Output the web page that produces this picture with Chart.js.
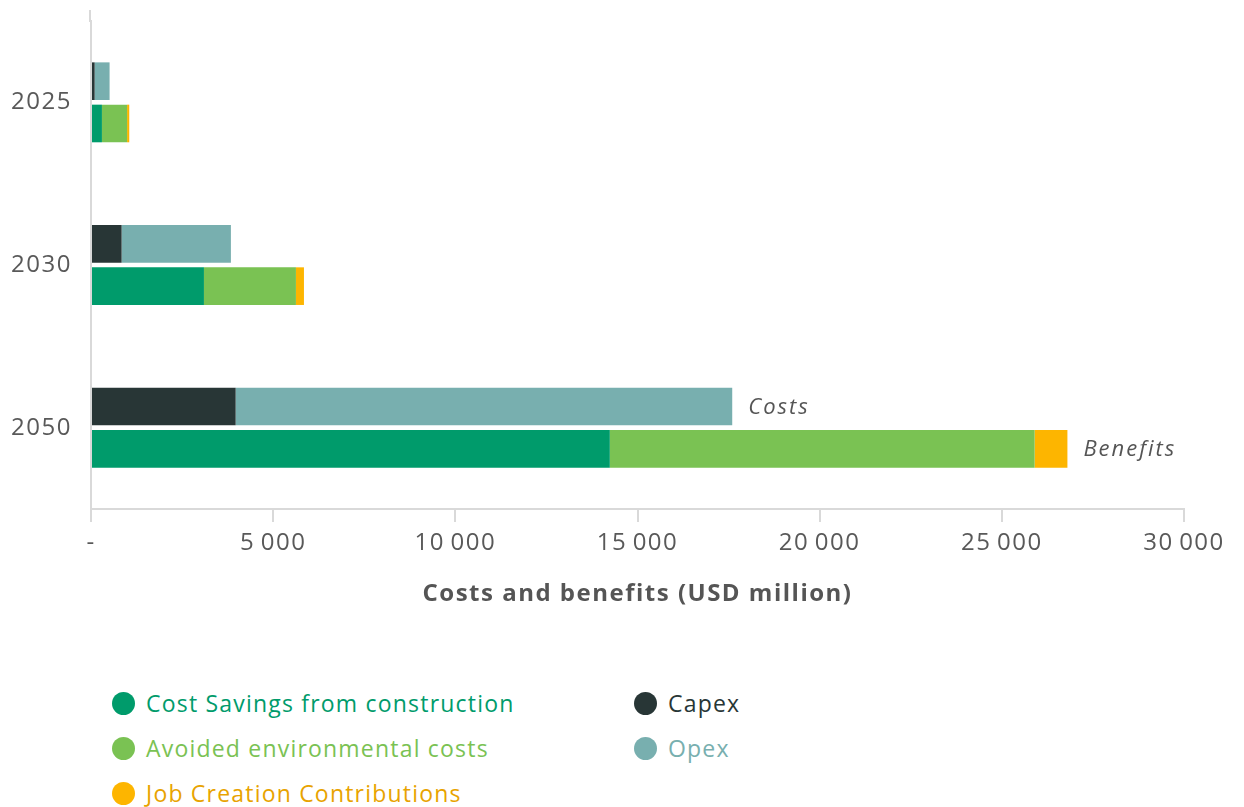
<!DOCTYPE html>
<html>
<head>
<meta charset="utf-8">
<title>Costs and benefits</title>
<script src="https://cdn.jsdelivr.net/npm/chart.js@4"></script>
<style>
  body { margin: 0; background: #fff; font-family: "Open Sans", sans-serif; }
  #wrap { position: relative; width: 1244px; height: 807px; }
  #chart-box { position: absolute; left: 0; top: 0; width: 1244px; height: 620px; }
  .legend-item {
    position: absolute; display: flex; align-items: center;
    height: 30px; font-size: 23px; letter-spacing: 1.2px; white-space: nowrap;
  }
  .legend-item .dot { width: 23px; height: 23px; border-radius: 50%; margin-right: 11px; }
</style>
</head>
<body>
<div id="wrap">
  <div id="chart-box"><canvas id="costsChart" width="1244" height="620"></canvas></div>
  <div id="legend"></div>
</div>
<script>
// Valores em USD milhões por ano
const categories = ['2025', '2030', '2050'];
const capex = [100, 840, 3970];
const opex = [410, 3000, 13630];
const costSavings = [300, 3100, 14240];
const avoidedEnv = [690, 2525, 11660];
const jobCreation = [60, 220, 900];
const xTickValues = [0, 5000, 10000, 15000, 20000, 25000, 30000];

const COLORS = {
    capex: '#283636',
    opex: '#78AFAF',
    savings: '#009B6B',
    avoided: '#7AC253',
    jobs: '#FDB500'
};

const TEXT_COLOR = '#595959';
const AXIS_COLOR = '#d9d9d9';

/**
 * Formata os ticks do eixo x: zero vira "-", milhares com espaço fino
 */
function formatTick(value) {
    if (value === 0) return '-';
    return String(value).replace(/\B(?=(\d{3})+(?!\d))/g, '\u2009');
}

// Espaçamento entre letras no texto do canvas
const textSpacing = {
    id: 'textSpacing',
    beforeDraw(chart) {
        chart.ctx.letterSpacing = '1.5px';
    }
};

// Prolonga a linha do eixo y até o topo
const axisExtension = {
    id: 'axisExtension',
    afterDraw(chart) {
        const ctx = chart.ctx;
        const x = chart.scales.y.right;
        ctx.save();
        ctx.strokeStyle = AXIS_COLOR;
        ctx.lineWidth = 2;
        ctx.beginPath();
        ctx.moveTo(x - 1, 10);
        ctx.lineTo(x - 1, chart.chartArea.top + 1);
        ctx.stroke();
        ctx.restore();
    }
};

// Rótulos "Costs" / "Benefits" ao lado das barras do último ano
const stackLabels = {
    id: 'stackLabels',
    afterDatasetsDraw(chart) {
        const ctx = chart.ctx;
        const last = categories.length - 1;
        const ends = [['Costs', 1], ['Benefits', 4]];
        ctx.save();
        ctx.font = 'italic 22px "Open Sans"';
        ctx.letterSpacing = '2px';
        ctx.fillStyle = '#555';
        ctx.textBaseline = 'middle';
        ends.forEach(function (item) {
            const bar = chart.getDatasetMeta(item[1]).data[last];
            ctx.fillText(item[0], bar.x + 16, bar.y + 1);
        });
        ctx.restore();
    }
};

const datasets = [
    { label: 'Capex', data: capex, backgroundColor: COLORS.capex, stack: 'costs' },
    { label: 'Opex', data: opex, backgroundColor: COLORS.opex, stack: 'costs' },
    { label: 'Cost Savings from construction', data: costSavings, backgroundColor: COLORS.savings, stack: 'benefits' },
    { label: 'Avoided environmental costs', data: avoidedEnv, backgroundColor: COLORS.avoided, stack: 'benefits' },
    { label: 'Job Creation Contributions', data: jobCreation, backgroundColor: COLORS.jobs, stack: 'benefits' }
];
datasets.forEach(function (ds) {
    ds.categoryPercentage = 0.52;
    ds.barPercentage = 0.89;
    ds.borderWidth = 0;
});

new Chart(document.getElementById('costsChart').getContext('2d'), {
    type: 'bar',
    data: { labels: categories, datasets: datasets },
    options: {
        indexAxis: 'y',
        responsive: false,
        animation: false,
        layout: { padding: { top: 21, right: 60, left: 0, bottom: 0 } },
        plugins: {
            legend: { display: false },
            tooltip: { enabled: false }
        },
        scales: {
            x: {
                stacked: true,
                min: 0,
                max: 30000,
                afterBuildTicks: function (scale) {
                    scale.ticks = xTickValues.map(function (v) { return { value: v }; });
                },
                afterFit: function (scale) { scale.height = 111; },
                grid: { drawOnChartArea: false, color: AXIS_COLOR, lineWidth: 2, tickLength: 13 },
                border: { color: AXIS_COLOR, width: 2 },
                ticks: {
                    padding: 7,
                    color: TEXT_COLOR,
                    font: { family: 'Open Sans', size: 24 },
                    callback: formatTick
                },
                title: {
                    display: true,
                    text: 'Costs and benefits (USD million)',
                    color: '#555',
                    font: { family: 'Open Sans', size: 24, weight: 'bold' },
                    padding: { top: 0, bottom: 11 }
                }
            },
            y: {
                stacked: true,
                afterFit: function (scale) {
                    scale.width = 91;
                    scale.paddingTop = 0;
                    scale.paddingBottom = 0;
                },
                grid: { display: false, drawTicks: false },
                border: { color: AXIS_COLOR, width: 2 },
                ticks: {
                    padding: 19,
                    color: TEXT_COLOR,
                    font: { family: 'Open Sans', size: 24 }
                }
            }
        }
    },
    plugins: [textSpacing, axisExtension, stackLabels]
});

// Legenda em duas colunas, texto na cor da série
const legendItems = [
    { label: 'Cost Savings from construction', color: COLORS.savings, col: 0, row: 0 },
    { label: 'Avoided environmental costs', color: COLORS.avoided, col: 0, row: 1 },
    { label: 'Job Creation Contributions', color: COLORS.jobs, text: '#E8A300', col: 0, row: 2 },
    { label: 'Capex', color: COLORS.capex, col: 1, row: 0 },
    { label: 'Opex', color: COLORS.opex, col: 1, row: 1 }
];
const legendEl = document.getElementById('legend');
legendItems.forEach(function (item) {
    const el = document.createElement('div');
    el.className = 'legend-item';
    el.style.left = (item.col === 0 ? 112 : 634) + 'px';
    el.style.top = (688 + item.row * 45) + 'px';
    el.style.color = item.text || item.color;
    el.innerHTML = '<span class="dot" style="background:' + item.color + '"></span>' + item.label;
    legendEl.appendChild(el);
});
</script>
</body>
</html>
